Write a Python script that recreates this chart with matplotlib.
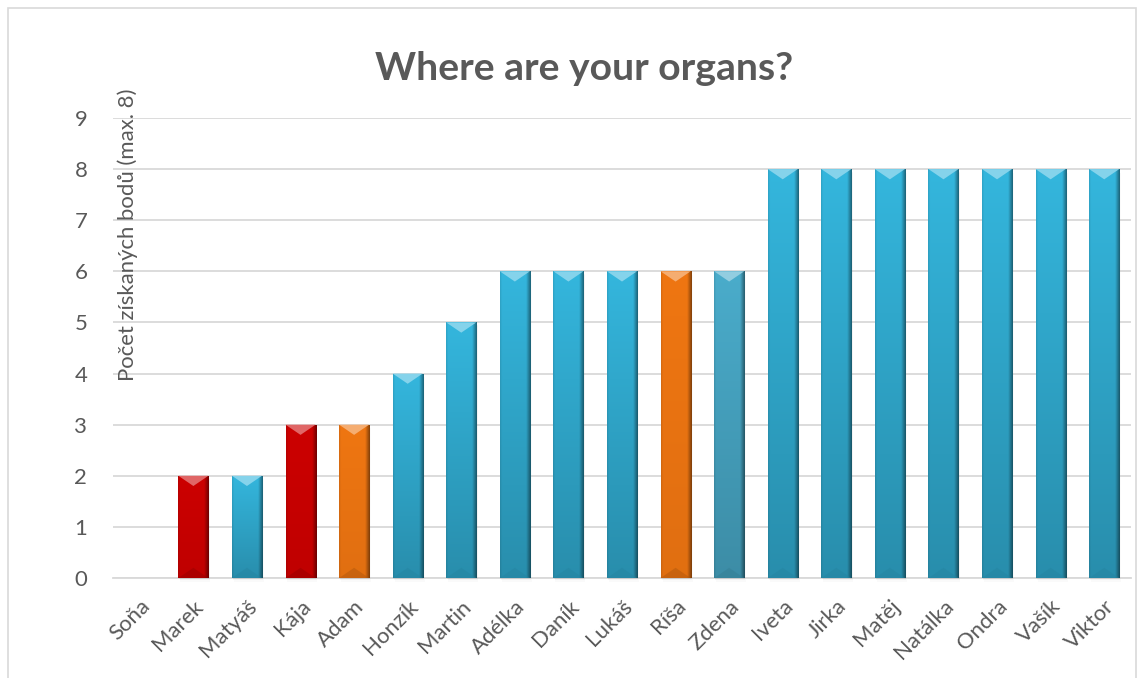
import numpy as np
import matplotlib
matplotlib.use("Agg")
import matplotlib.pyplot as plt
from matplotlib.patches import Rectangle, Polygon
from matplotlib.colors import to_rgb

names = ["Soňa", "Marek", "Matyáš", "Kája", "Adam", "Honzík", "Martin", "Adélka",
         "Daník", "Lukáš", "Ríša", "Zdena", "Iveta", "Jirka", "Matěj", "Natálka",
         "Ondra", "Vašík", "Viktor"]
points = [0, 2, 2, 3, 3, 4, 5, 6, 6, 6, 6, 6, 8, 8, 8, 8, 8, 8, 8]
bar_colors = ["#34b6dd", "#cc0000", "#34b6dd", "#cc0000", "#ef7612", "#34b6dd",
              "#34b6dd", "#34b6dd", "#34b6dd", "#34b6dd", "#ef7612", "#4aaccb",
              "#34b6dd", "#34b6dd", "#34b6dd", "#34b6dd", "#34b6dd", "#34b6dd",
              "#34b6dd"]
# how much each bar darkens towards its base
base_darkening = [0.22, 0.06, 0.22, 0.06, 0.06, 0.22, 0.22, 0.22, 0.22, 0.22,
                  0.06, 0.18, 0.22, 0.22, 0.22, 0.22, 0.22, 0.22, 0.22]
y_ticks = list(range(0, 10))

title = "Where are your organs?"
y_title = "Počet získaných bodů (max. 8)"

TEXT = "#595959"
GRID = "#d9d9d9"
FONT = ["Lato", "DejaVu Sans"]

plt.rcParams["font.family"] = FONT

W, H = 1145, 678
fig = plt.figure(figsize=(W / 100, H / 100), dpi=100)
renderer = fig.canvas.get_renderer()


def fit_size(text, weight, target_px, start=14.0):
    """Font size (pt) at which `text` is target_px wide."""
    t = fig.text(0, 0, text, fontsize=start, fontweight=weight)
    wpx = t.get_window_extent(renderer).width
    t.remove()
    return start * target_px / wpx


title_size = fit_size(title, "bold", 420)
label_size = fit_size(y_title, "normal", 294)

# chart frame
fig.patches.append(Rectangle((8 / W, -0.01), (1136 - 8) / W, 1 - 8 / H + 0.01,
                             transform=fig.transFigure, fill=False,
                             edgecolor=GRID, linewidth=1.2))

ax = fig.add_axes([113 / W, 1 - 578 / H, (1131 - 113) / W, (578 - 118) / H])
x = np.arange(len(names))
bw = 0.56
bars = ax.bar(x, points, width=bw, color=bar_colors, zorder=3, linewidth=0)

ax.set_xlim(-0.5, len(names) - 0.5)
ax.set_ylim(0, 9)
ax.set_yticks(y_ticks)
ax.set_xticks(x)
ax.set_xticklabels(names, rotation=45, ha="right", rotation_mode="anchor")
ax.tick_params(axis="both", length=0, labelsize=label_size, labelcolor=TEXT)
ax.tick_params(axis="y", pad=18.5)
ax.tick_params(axis="x", pad=13)
ax.grid(axis="y", color=GRID, linewidth=1.3, zorder=0)
for s in ["top", "right", "left"]:
    ax.spines[s].set_visible(False)
ax.spines["bottom"].set_color(GRID)
ax.spines["bottom"].set_linewidth(1.3)
ax.spines["bottom"].set_zorder(1)


def shade(c, f):
    return tuple(np.clip(np.array(c) * f, 0, 1))


def tint(c, t):
    c = np.array(c)
    return tuple(c + (1 - c) * t)


# bevelled look for each bar: gradient body, light top facet, dark base facet
nx, ny = 60, 60
u = np.linspace(0, 1, nx)
v = np.linspace(0, 1, ny)[:, None]
hprof = np.ones(nx)
hprof = np.where(u > 0.85, 1 - 0.45 * (u - 0.85) / 0.15, hprof)
hprof = np.where(u < 0.06, 0.9 + 0.1 * u / 0.06, hprof)
for rect, col, dk in zip(bars, bar_colors, base_darkening):
    h = rect.get_height()
    if h <= 0:
        continue
    x0 = rect.get_x()
    w = rect.get_width()
    base = np.array(to_rgb(col))
    vprof = (1 - dk) + dk * v  # darker towards the base (v=0)
    img = base[None, None, :] * (hprof[None, :, None] * vprof[:, :, None])
    img = np.clip(img, 0, 1)
    im = ax.imshow(img, extent=(x0, x0 + w, 0, h), origin="lower",
                   aspect="auto", zorder=3.5, interpolation="bilinear")
    im.set_clip_path(rect)
    # soft shadow beside and under the bar
    for k, a in enumerate([0.10, 0.06, 0.03]):
        d = 0.02 * (k + 1)
        ax.add_patch(Rectangle((x0 + d * 0.6, -d * 1.2), w, h, facecolor="#7f7f7f",
                               alpha=a, linewidth=0, zorder=2.5, clip_on=False))
    xc = x0 + w / 2
    th = 0.2
    ax.add_patch(Polygon([(x0, h), (x0 + w, h), (xc, h - th)], closed=True,
                         facecolor=tint(base, 0.4), linewidth=0, zorder=4))
    ax.add_patch(Polygon([(x0, 0), (x0 + w, 0), (xc, th)], closed=True,
                         facecolor=shade(base, 0.72), alpha=0.45, linewidth=0,
                         zorder=4))

fig.text(584 / W, 1 - 68 / H, title, ha="center", va="center",
         fontsize=title_size, fontweight="bold", color=TEXT)
fig.text(128 / W, 1 - 235 / H, y_title, ha="center", va="center",
         rotation=90, fontsize=label_size, color=TEXT)

fig.savefig("out.png", dpi=100)
